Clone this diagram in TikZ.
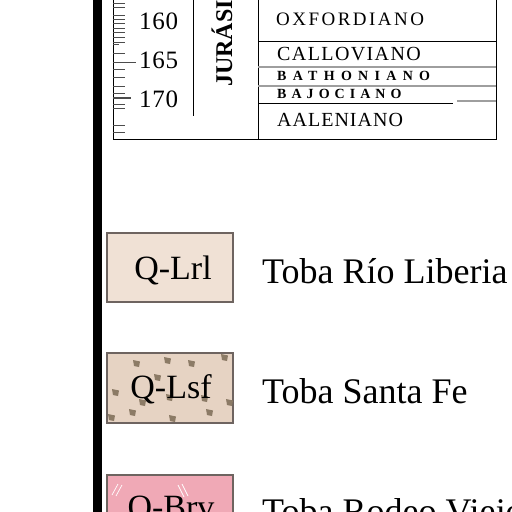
\documentclass[tikz,border=0pt]{standalone}
\usepackage{fontspec}
\setmainfont{Liberation Serif}
\definecolor{boxedge}{HTML}{6E6460}
\definecolor{fillA}{HTML}{F0E1D5}
\definecolor{fillB}{HTML}{E6D3C3}
\definecolor{speckc}{HTML}{8C7B66}
\definecolor{fillC}{HTML}{F0A9B6}
\newcommand{\myspeck}[2]{\fill[speckc] (#1,#2) ++(-4,-3) -- ++(7,1.5) -- ++(-1,5.5) -- ++(-5,-1) -- cycle;}
\begin{document}
\begin{tikzpicture}[x=1pt,y=-1pt,
  tline/.style={line width=0.8pt,black},
  gline/.style={line width=1.6pt,black!38},
  tickm/.style={line width=0.8pt,black!70},
  stage/.style={anchor=west,inner sep=0pt},
  numlab/.style={anchor=west,inner sep=0pt,font=\fontsize{25}{27}\selectfont\addfontfeatures{LetterSpace=3}},
  legbox/.style={draw=boxedge,line width=1.4pt,minimum width=126pt,minimum height=69pt,inner sep=0pt},
  boxlab/.style={inner sep=0pt,font=\fontsize{34}{38}\selectfont},
  legtext/.style={anchor=base west,inner sep=0pt,font=\fontsize{36}{40}\selectfont},
]
\useasboundingbox (0,0) rectangle (512,512);
\clip (0,0) rectangle (512,512);
% black bar
\fill[black] (93,0) rectangle (102,512);
% table frame
\coordinate (ttl) at (113,0);
\coordinate (tbl) at (113,139);
\coordinate (tbr) at (496,139);
\coordinate (ttr) at (496,0);
\draw[tline] (ttl) -- (tbl) -- (tbr) -- (ttr);
\coordinate (v1t) at (193,0); \coordinate (v1b) at (193,116);
\draw[tline] (v1t) -- (v1b);
\coordinate (v2t) at (258,0); \coordinate (v2b) at (258,139);
\draw[tline] (v2t) -- (v2b);
\draw[tline] (258,41) -- (496,41);
\draw[gline] (258,67) -- (496,67);
\draw[gline] (258,86) -- (496,86);
\draw[tline] (258,103) -- (453,103);
\draw[gline,line width=1.2pt] (457,101) -- (496,101);
% ticks
\foreach \yy in {3,7,15,19,23,28,32,37,42,53,69,77,86,93,104,108,125,132}
  \draw[tickm] (113,\yy) -- (125,\yy);
\draw[tickm] (113,44) -- (119,44);
\draw[tickm] (113,62) -- (136,62);
\draw[tickm,line width=1.2pt] (113,98) -- (131,98);
\node[numlab] (n160) at (139,21) {160};
\node[numlab] (n165) at (139,60) {165};
\node[numlab] (n170) at (139,99) {170};
% period label
\node[rotate=90,anchor=base west,inner sep=0pt,font=\fontsize{24}{26}\selectfont\bfseries] (jur) at (232,87) {JURÁSICO};
% stages
\node[stage,font=\fontsize{19}{20}\selectfont\addfontfeatures{LetterSpace=13}] (oxf) at (276,19) {OXFORDIANO};
\node[stage,font=\fontsize{20}{22}\selectfont\addfontfeatures{LetterSpace=7}] (cal) at (277,54) {CALLOVIANO};
\node[stage,font=\fontsize{14}{16}\selectfont\bfseries\addfontfeatures{LetterSpace=45}] (bat) at (277,76) {BATHONIANO};
\node[stage,font=\fontsize{14}{16}\selectfont\bfseries\addfontfeatures{LetterSpace=36}] (baj) at (277,94) {BAJOCIANO};
\node[stage,font=\fontsize{20}{22}\selectfont\addfontfeatures{LetterSpace=5}] (aal) at (277,120) {AALENIANO};
% legend
\node[legbox,fill=fillA] (qlrl) at (170,267.5) {};
\node[boxlab] (qlrlt) at (173,270) {Q-Lrl};
\node[legtext] (tlrl) at (262,283) {Toba Río Liberia};

\node[legbox,fill=fillB] (qlsf) at (170,388) {};
\begin{scope}
\clip (107,353.5) rectangle (233,422.5);
\myspeck{137}{363}\myspeck{168}{360}\myspeck{192}{363}\myspeck{225}{357}
\myspeck{116}{392}\myspeck{143}{402}\myspeck{170}{397}\myspeck{205}{398}
\myspeck{230}{402}\myspeck{133}{412}\myspeck{173}{418}\myspeck{210}{412}
\myspeck{112}{417}\myspeck{158}{377}
\end{scope}
\draw[boxedge,line width=1.4pt] (qlsf.south west) rectangle (qlsf.north east);
\node[boxlab] (qlsft) at (171,389) {Q-Lsf};
\node[legtext] (tlsf) at (262,403) {Toba Santa Fe};

\node[legbox,fill=fillC] (qbrv) at (170,509.5) {};
\draw[white,line width=0.7pt] (112,495) -- (118,484) (116,496) -- (122,485);
\draw[white,line width=0.7pt] (178,485) -- (184,497) (182,484) -- (188,496);
\node[boxlab] (qbrvt) at (171,510) {Q-Brv};
\node[legtext] (tbrv) at (262,523) {Toba Rodeo Viejo};
\end{tikzpicture}
\end{document}
